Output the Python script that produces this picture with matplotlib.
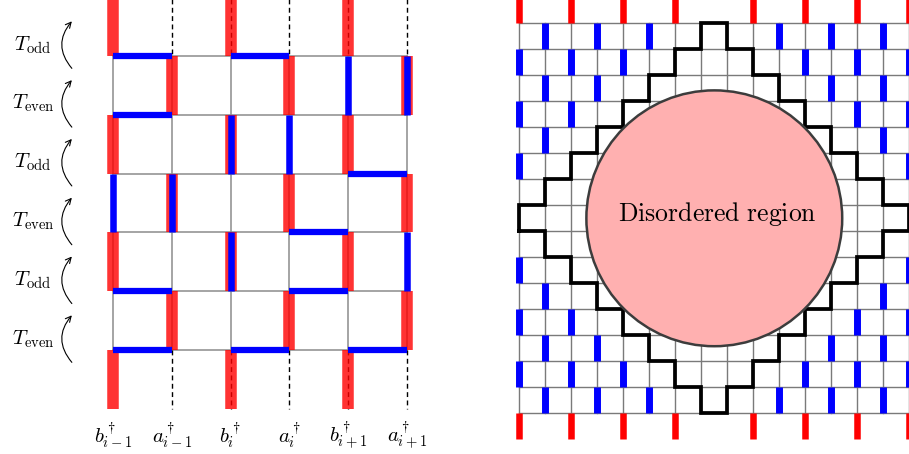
import matplotlib
matplotlib.use("Agg")
import matplotlib.pyplot as plt
from matplotlib.patches import Circle, FancyArrowPatch

plt.rcParams['mathtext.fontset'] = 'cm'

# ---- left panel data (columns 0..5, rows 0..4, row -1 / 5 = stubs) ----
col_labels = [r'$b^\dagger_{i-1}$', r'$a^\dagger_{i-1}$', r'$b^\dagger_{i}$',
              r'$a^\dagger_{i}$', r'$b^\dagger_{i+1}$', r'$a^\dagger_{i+1}$']
step_labels = [r'$T_{\rm odd}$', r'$T_{\rm even}$', r'$T_{\rm odd}$',
               r'$T_{\rm even}$', r'$T_{\rm odd}$', r'$T_{\rm even}$']
left_red = [(0, -1), (2, -1), (4, -1),
            (1, 0), (3, 0), (5, 0),
            (0, 1), (2, 1), (4, 1),
            (1, 2), (3, 2), (5, 2),
            (0, 3), (2, 3), (4, 3),
            (1, 4), (3, 4), (5, 4),
            (0, 5), (2, 5), (4, 5)]
left_blue_v = [(4, 0), (5, 0), (2, 1), (3, 1), (0, 2), (1, 2), (2, 3), (5, 3)]
left_blue_h = [(0, 0), (2, 0), (0, 1), (4, 2), (3, 3), (0, 4), (3, 4),
               (0, 5), (2, 5), (4, 5)]   # (start col, line)
dashed_cols = [1, 2, 3, 4, 5]

# ---- right panel data (grid 15 x 15 cells) ----
red_ticks = [0, 2, 4, 6, 9, 11, 13, 15]
blue_rows = [[1, 3, 5, 10, 12, 14],
             [0, 2, 4, 11, 13, 15],
             [1, 3, 12, 14],
             [0, 2, 13, 15],
             [1, 14],
             [0, 15],
             [],
             [],
             [],
             [0, 15],
             [1, 14],
             [0, 2, 13, 15],
             [1, 3, 12, 14],
             [0, 2, 4, 11, 13, 15],
             [1, 3, 5, 10, 12, 14]]
stair = [(0, 8), (0, 7), (1, 7), (1, 6), (2, 6), (2, 5), (3, 5), (3, 4), (4, 4),
         (4, 3), (5, 3), (5, 2), (6, 2), (6, 1), (7, 1), (7, 0), (8, 0), (8, 1),
         (9, 1), (9, 2), (10, 2), (10, 3), (11, 3), (11, 4), (12, 4), (12, 5),
         (13, 5), (13, 6), (14, 6), (14, 7), (15, 7), (15, 8), (14, 8), (14, 9),
         (13, 9), (13, 10), (12, 10), (12, 11), (11, 11), (11, 12), (10, 12),
         (10, 13), (9, 13), (9, 14), (8, 14), (8, 15), (7, 15), (7, 14), (6, 14),
         (6, 13), (5, 13), (5, 12), (4, 12), (4, 11), (3, 11), (3, 10), (2, 10),
         (2, 9), (1, 9), (1, 8), (0, 8)]
disorder_center = (7.5, 7.5)
disorder_radius = 4.92

W, H = 909, 454
fig = plt.figure(figsize=(W / 100, H / 100), dpi=100)


def panel(x0, x1, ox, oy, cell):
    ax = fig.add_axes([x0 / W, 0, (x1 - x0) / W, 1])
    ax.set_xlim((x0 - ox) / cell, (x1 - ox) / cell)
    ax.set_ylim((H - oy) / cell, -oy / cell)
    ax.axis('off')
    return ax


# ================= left =================
ax = panel(0, 470, 113, 56, 58.8)
grey = '#8c8c8c'
for k in range(6):
    ax.plot([0, 5], [k, k], color=grey, lw=1.1, zorder=1)
    ax.plot([k, k], [0, 5], color=grey, lw=1.1, zorder=1)
for c in dashed_cols:
    for y0 in (-1, 5):
        ax.plot([c, c], [y0, y0 + 1], color='k', lw=1.0, dashes=(3.5, 2.5), zorder=2)
for c, r in left_red:
    ax.plot([c, c], [r, r + 1], color='red', alpha=0.8, lw=8.3,
            solid_capstyle='butt', zorder=3)
for c, r in left_blue_v:
    ax.plot([c, c], [r, r + 1], color='blue', lw=4.7, solid_capstyle='butt', zorder=4)
for c, l in left_blue_h:
    ax.plot([c, c + 1], [l, l], color='blue', lw=4.5, solid_capstyle='butt', zorder=4)
for k, lab in enumerate(step_labels):
    yc = k - 0.19
    ax.text(-1.36, yc, lab, fontsize=15, ha='center', va='center')
    arr = FancyArrowPatch((-0.70, yc + 0.40), (-0.70, yc - 0.40),
                          connectionstyle='arc3,rad=-0.42', arrowstyle='->',
                          mutation_scale=10, lw=0.8, color='k',
                          shrinkA=0, shrinkB=0)
    ax.add_patch(arr)
for c, lab in enumerate(col_labels):
    ax.text(c, 6.45, lab, fontsize=15, ha='center', va='center')

# ================= right =================
ax2 = panel(500, 909, 519.3, 23.3, 26.0)
for k in range(16):
    ax2.plot([0, 15], [k, k], color='#7a7a7a', lw=1.0, zorder=1)
    ax2.plot([k, k], [0, 15], color='#7a7a7a', lw=1.0, zorder=1)
for r, cols in enumerate(blue_rows):
    for c in cols:
        ax2.plot([c, c], [r, r + 1], color='blue', lw=5.0, solid_capstyle='butt', zorder=2)
for c in red_ticks:
    ax2.plot([c, c], [-1, 0], color='red', lw=4.7, solid_capstyle='butt', zorder=2)
    ax2.plot([c, c], [15, 16], color='red', lw=4.7, solid_capstyle='butt', zorder=2)
sx = [p[0] for p in stair]
sy = [p[1] for p in stair]
ax2.plot(sx, sy, color='k', lw=2.7, solid_joinstyle='miter', zorder=3)
ax2.add_patch(Circle(disorder_center, disorder_radius, facecolor='#ffb0b0',
                     edgecolor='#3c3c3c', lw=1.8, zorder=4))
ax2.text(disorder_center[0] + 0.1, disorder_center[1] - 0.15,
         r'$\mathrm{Disordered\ region}$',
         fontsize=18.5, ha='center', va='center', zorder=5)

fig.savefig('out.png', dpi=100)
